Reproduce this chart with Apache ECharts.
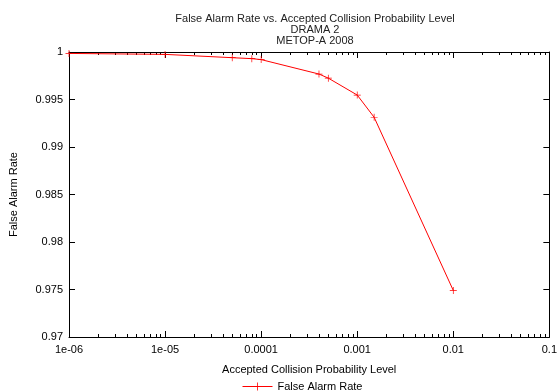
<!DOCTYPE html>
<html>
<head>
<meta charset="utf-8">
<script src="https://cdn.jsdelivr.net/npm/echarts@6/dist/echarts.min.js"></script>
<style>
  html, body {margin: 0; padding: 0; background: #fff;}
  #chart {width: 560px; height: 392px;}
</style>
</head>
<body>
<div id="chart"></div>
<script>
// accepted collision probability level (x) and false alarm rate (y)
const probLevels = [1e-6, 1e-5, 5e-5, 8e-5, 1e-4, 4e-4, 5e-4, 1e-3, 1.5e-3, 1e-2];
const falseAlarm = [0.99985, 0.99975, 0.9994, 0.9993, 0.9992, 0.99768, 0.99725, 0.99547, 0.99313, 0.9749];

const xMajorTicks = [1e-6, 1e-5, 1e-4, 1e-3, 1e-2, 1e-1];
const xTickLabels = ['1e-06', '1e-05', '0.0001', '0.001', '0.01', '0.1'];
const xMinorTicks = [];
for (let d = 0; d < 5; d++) {
  for (let k = 2; k <= 9; k++) xMinorTicks.push(k * xMajorTicks[d]);
}

const FONT = 'Liberation Sans';
const black = '#000';

const xLabel = (v) => {
  let best = 0;
  xMajorTicks.forEach((t, i) => {
    if (Math.abs(Math.log10(t) - Math.log10(v)) < Math.abs(Math.log10(xMajorTicks[best]) - Math.log10(v))) best = i;
  });
  return xTickLabels[best];
};

const logAxis = (extra) => Object.assign({
  type: 'log', logBase: 10, min: 1e-6, max: 0.1,
  splitLine: {show: false},
  axisLine: {show: false, lineStyle: {color: black, width: 1}},
  axisLabel: {show: false},
  axisTick: {show: false}
}, extra);

const chart = echarts.init(document.getElementById('chart'), null, {renderer: 'canvas'});
chart.setOption({
  animation: false,
  textStyle: {fontFamily: FONT, color: black},
  title: {
    text: 'False Alarm Rate vs. Accepted Collision Probability Level\nDRAMA 2\nMETOP-A 2008',
    left: 310, textAlign: 'center', top: 8,
    textStyle: {fontFamily: FONT, fontSize: 11, fontWeight: 'normal', color: '#222', lineHeight: 11}
  },
  legend: {
    left: 237, top: 376,
    itemWidth: 30, itemHeight: 10, itemGap: 5,
    lineStyle: {width: 1},
    textStyle: {fontFamily: FONT, fontSize: 11, color: black},
    data: ['False Alarm Rate']
  },
  grid: {left: 66, right: 6, top: 52, bottom: 55, containLabel: false},
  xAxis: [
    logAxis({
      position: 'bottom',
      name: 'Accepted Collision Probability Level',
      nameLocation: 'middle', nameGap: 27,
      nameTextStyle: {fontFamily: FONT, fontSize: 11, color: black},
      axisLine: {show: true, onZero: false, lineStyle: {color: black, width: 1}},
      axisTick: {show: true, inside: true, length: 6, customValues: xMajorTicks, lineStyle: {color: black}},
      axisLabel: {show: true, customValues: xMajorTicks, formatter: xLabel, margin: 7,
        fontFamily: FONT, fontSize: 11, color: black}
    }),
    logAxis({
      position: 'bottom',
      axisTick: {show: true, inside: true, length: 3, customValues: xMinorTicks, lineStyle: {color: black}}
    }),
    logAxis({
      position: 'top',
      axisLine: {show: true, onZero: false, lineStyle: {color: black, width: 1}},
      axisTick: {show: true, inside: true, length: 6, customValues: xMajorTicks, lineStyle: {color: black}}
    }),
    logAxis({
      position: 'top',
      axisTick: {show: true, inside: true, length: 3, customValues: xMinorTicks, lineStyle: {color: black}}
    })
  ],
  yAxis: [
    {
      type: 'value', min: 0.97, max: 1, interval: 0.005,
      position: 'left',
      name: 'False Alarm Rate', nameLocation: 'middle', nameGap: 50, nameRotate: 90,
      nameTextStyle: {fontFamily: FONT, fontSize: 11, color: black},
      splitLine: {show: false},
      axisLine: {show: true, onZero: false, lineStyle: {color: black, width: 1}},
      axisTick: {show: true, inside: true, length: 6, lineStyle: {color: black}},
      axisLabel: {fontFamily: FONT, fontSize: 11, color: black, margin: 6,
        formatter: (v) => String(+v.toFixed(3))}
    },
    {
      type: 'value', min: 0.97, max: 1, interval: 0.005,
      position: 'right',
      splitLine: {show: false},
      axisLine: {show: true, onZero: false, lineStyle: {color: black, width: 1}},
      axisTick: {show: true, inside: true, length: 6, lineStyle: {color: black}},
      axisLabel: {show: false}
    }
  ],
  series: [{
    name: 'False Alarm Rate',
    type: 'line',
    xAxisIndex: 0, yAxisIndex: 0,
    data: probLevels.map((p, i) => [p, falseAlarm[i]]),
    symbol: 'path://M0,4.5H10V5.5H0Z M4.5,0H5.5V10H4.5Z',
    symbolSize: 7,
    showAllSymbol: true,
    clip: false,
    itemStyle: {color: '#ff0000'},
    lineStyle: {color: '#ff0000', width: 1}
  }]
});
</script>
</body>
</html>
